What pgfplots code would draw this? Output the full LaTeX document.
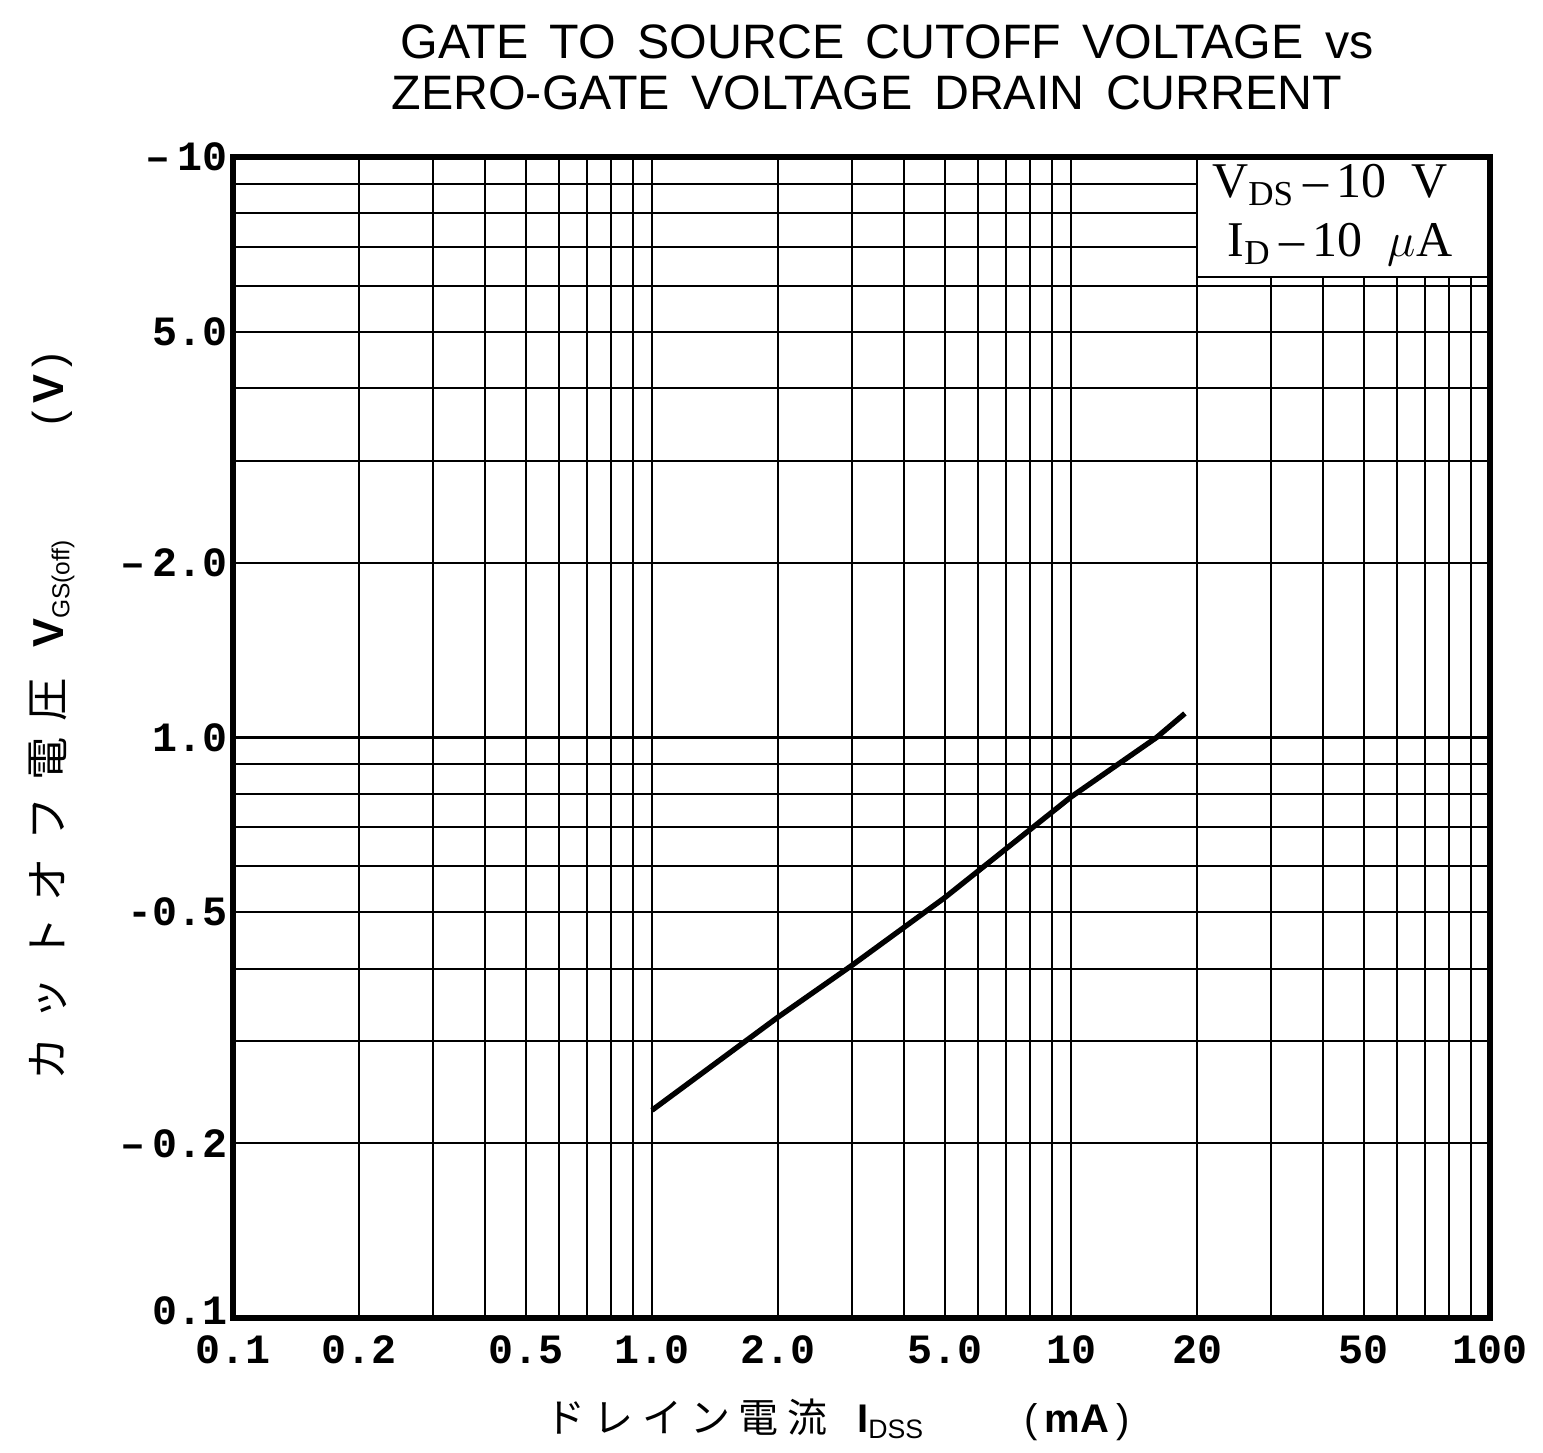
\documentclass[border=0pt]{standalone}
\usepackage{pgfplots}
\pgfplotsset{compat=1.18}
\usepackage{fontspec}
\setmainfont{Liberation Sans}
\newfontfamily\cjk{Noto Sans CJK JP}
\newfontfamily\tickfont{Liberation Mono}
\newfontfamily\legfont{Liberation Serif}

\begin{document}
\begin{tikzpicture}
% page frame: 1 px of the reference = 0.3pt, origin at the lower left of the axis box
\path[use as bounding box] (-69.9pt,-40.5pt) rectangle (393pt,395.4pt);
\begin{axis}[
  at={(0pt,0pt)}, anchor=south west,
  scale only axis, width=377.1pt, height=348.3pt,
  xmode=log, ymode=log,
  xmin=0.1, xmax=100, ymin=0.1, ymax=10,
  xtick={0.1,0.2,0.5,1,2,5,10,20,50,100},
  xticklabels={0.1,0.2,0.5,1.0,2.0,5.0,10,20,50,100},
  ytick={0.1,0.2,0.5,1,2,5,10},
  yticklabels={\raisebox{4.5pt}{0.1},–\,0.2,-0.5,1.0,–\,2.0,5.0,\raisebox{-1.5pt}{–\,10}},
  minor xtick={0.3,0.4,0.6,0.7,0.8,0.9,3,4,6,7,8,9,30,40,60,70,80,90},
  minor ytick={0.3,0.4,0.6,0.7,0.8,0.9,3,4,6,7,8,9},
  grid=both,
  major grid style={black, line width=0.7pt},
  minor grid style={black, line width=0.6pt},
  major tick length=0pt, minor tick length=0pt,
  axis line style={black, line width=1.8pt},
  tick label style={font=\tickfont\bfseries\fontsize{12.5}{12.5}\selectfont, inner sep=0pt},
  xticklabel style={anchor=north, yshift=-5pt},
  yticklabel style={anchor=east, xshift=-1.5pt},
  clip=false,
]
\addplot[black, line width=1.6pt] coordinates {
  (1.0,0.228) (2.0,0.330) (3.0,0.405) (5.0,0.53) (10,0.79) (16,1.0) (18.7,1.10)};
\end{axis}

% conditions box, cut out of the grid
\fill[white] (289.2pt,312.3pt) rectangle (376.2pt,347.4pt);
\draw[line width=0.8pt] (289.2pt,347.4pt) -- (289.2pt,312.3pt) -- (376.2pt,312.3pt);
\node[font=\legfont\fontsize{15}{15}\selectfont] at (329.1pt,339.9pt)
  {V\textsubscript{DS}\,–\,10\ \ V};
\node[font=\legfont\fontsize{15}{15}\selectfont] at (332.1pt,321.9pt)
  {I\textsubscript{D}\,–\,10\ \ $\mu$A};

% title
\node[font=\fontsize{14.5}{14.5}\selectfont] at (196.2pt,382.8pt)
  {GATE\ \,TO\ \,SOURCE\ \,CUTOFF\ \,VOLTAGE\ \,vs};
\node[font=\fontsize{14.5}{14.5}\selectfont] at (190.2pt,367.5pt)
  {ZERO-GATE\ \,VOLTAGE\ \,DRAIN\ \,CURRENT};

% axis labels
\node[rotate=90, font=\fontsize{13}{13}\selectfont] at (-54.3pt,180.3pt)
  {{\cjk カ\hspace{5pt}ッ\hspace{5pt}ト\hspace{5pt}オ\hspace{5pt}フ\hspace{5pt}電\hspace{5pt}圧}\hspace{9pt}\textbf{V}{\fontsize{10.5}{10.5}\selectfont\textsubscript{GS(off)}}\hspace{34pt}(\,\textbf{V}\,)};
\node[font=\fontsize{12}{12}\selectfont] at (181.35pt,-30.6pt)
  {{\cjk ド\hspace{2.5pt}レ\hspace{2.5pt}イ\hspace{2.5pt}ン\hspace{2.5pt}電\hspace{2.5pt}流}\hspace{9pt}\textbf{I}\textsubscript{DSS}\hspace{30pt}(\,\textbf{mA}\,)};
\end{tikzpicture}
\end{document}
